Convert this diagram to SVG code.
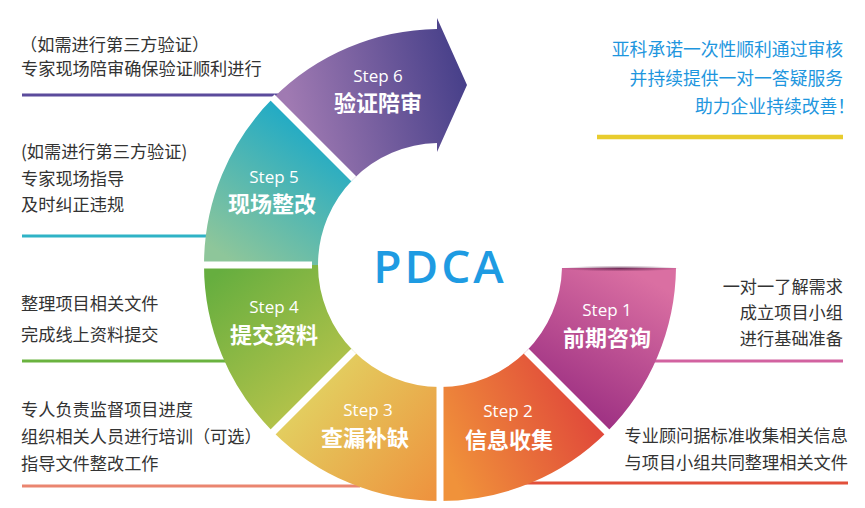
<svg xmlns="http://www.w3.org/2000/svg" width="865" height="508" viewBox="0 0 865 508">
<style>
.note{font-family:"Noto Sans CJK SC","Noto Sans",sans-serif;font-size:17.2px;fill:#333333}
.noteR{font-family:"Noto Sans CJK SC","Noto Sans",sans-serif;font-size:17.2px;fill:#333333;text-anchor:end}
.blue{font-family:"Noto Sans CJK SC","Noto Sans",sans-serif;font-size:17.8px;fill:#1E96DE}
.step{font-family:"Open Sans","Noto Sans",sans-serif;font-size:17px;fill:#ffffff;text-anchor:middle}
.title{font-family:"Noto Sans CJK SC","Noto Sans",sans-serif;font-size:22px;font-weight:bold;fill:#ffffff;text-anchor:middle}
.sep{stroke:#ffffff;stroke-width:7;fill:none}
</style>
<defs>
<linearGradient id="g1" gradientUnits="userSpaceOnUse" x1="640" y1="275" x2="560" y2="420"><stop offset="0" stop-color="#DA6FA2"/><stop offset="1" stop-color="#982B80"/></linearGradient>
<linearGradient id="g2" gradientUnits="userSpaceOnUse" x1="450" y1="470" x2="600" y2="400"><stop offset="0" stop-color="#F0923A"/><stop offset="1" stop-color="#DF433A"/></linearGradient>
<linearGradient id="g3" gradientUnits="userSpaceOnUse" x1="300" y1="370" x2="440" y2="490"><stop offset="0" stop-color="#E1D664"/><stop offset="1" stop-color="#EE933E"/></linearGradient>
<linearGradient id="g4" gradientUnits="userSpaceOnUse" x1="215" y1="275" x2="330" y2="420"><stop offset="0" stop-color="#66AE3F"/><stop offset="1" stop-color="#C0C64C"/></linearGradient>
<linearGradient id="g5" gradientUnits="userSpaceOnUse" x1="320" y1="130" x2="230" y2="260"><stop offset="0" stop-color="#1FAAC6"/><stop offset="1" stop-color="#8EC69A"/></linearGradient>
<linearGradient id="g6" gradientUnits="userSpaceOnUse" x1="290" y1="110" x2="465" y2="70"><stop offset="0" stop-color="#A07AB2"/><stop offset="1" stop-color="#463F89"/></linearGradient>
<radialGradient id="sh1" cx="0.5" cy="0.5" r="0.5"><stop offset="0" stop-color="#5a1d47" stop-opacity="0.8"/><stop offset="1" stop-color="#5a1d47" stop-opacity="0"/></radialGradient>
</defs>

<g id="connectors" stroke-width="3" fill="none">
<line x1="22" y1="95" x2="278" y2="95" stroke="#5B4B9C"/>
<line x1="22" y1="236" x2="210" y2="236" stroke="#2FB3C6"/>
<line x1="22" y1="361" x2="228" y2="361" stroke="#6AB33F"/>
<line x1="22" y1="486" x2="360" y2="486" stroke="#EA8570"/>
<line x1="515" y1="483" x2="848" y2="483" stroke="#E2503B"/>
<line x1="650" y1="361" x2="843" y2="361" stroke="#D262A0"/>
<line x1="597" y1="137" x2="843" y2="137" stroke="#E8CC2E" stroke-width="4.5"/>
</g>

<g id="step1">
<path d="M676,268 A236,236 0 0 1 606.88,431.88 L526.27,351.27 A122,122 0 0 0 562,268 Z" fill="url(#g1)"/>
<ellipse cx="620" cy="268.5" rx="60" ry="3" fill="url(#sh1)"/>
<text class="step" x="607" y="316">Step 1</text>
<text class="title" x="607" y="346">前期咨询</text>
</g>
<g id="step2">
<path d="M606.88,431.88 A236,236 0 0 1 440,501 L440,387 A122,122 0 0 0 526.27,351.27 Z" fill="url(#g2)"/>
<text class="step" x="508" y="417">Step 2</text>
<text class="title" x="509" y="448">信息收集</text>
</g>
<g id="step3">
<path d="M440,501 A236,236 0 0 1 273.12,431.88 L353.73,351.27 A122,122 0 0 0 440,387 Z" fill="url(#g3)"/>
<text class="step" x="368" y="416">Step 3</text>
<text class="title" x="365" y="446">查漏补缺</text>
</g>
<g id="step4">
<path d="M273.12,431.88 A236,236 0 0 1 204,265 L318,265 A122,122 0 0 0 353.73,351.27 Z" fill="url(#g4)"/>
<text class="step" x="274" y="313">Step 4</text>
<text class="title" x="274" y="343">提交资料</text>
</g>
<g id="step5">
<path d="M204,265 A236,236 0 0 1 273.12,98.12 L353.73,178.73 A122,122 0 0 0 318,265 Z" fill="url(#g5)"/>
<text class="step" x="274" y="183">Step 5</text>
<text class="title" x="272" y="212">现场整改</text>
</g>
<g id="step6">
<path d="M273.12,98.12 A236,236 0 0 1 437,29 L437,18 L467,85 L437,152 L437,143 A122,122 0 0 0 353.73,178.73 Z" fill="url(#g6)"/>
<text class="step" x="378" y="82">Step 6</text>
<text class="title" x="378" y="111">验证陪审</text>
</g>

<g id="separators" class="sep">
<line x1="526.27" y1="351.27" x2="608" y2="433"/>
<line x1="440" y1="380" x2="440" y2="503"/>
<line x1="353.73" y1="351.27" x2="272" y2="433"/>
<line x1="312" y1="265" x2="202" y2="265"/>
<line x1="353.73" y1="178.73" x2="272" y2="97"/>
</g>

<g id="pdca">
<text x="440" y="283" text-anchor="middle" font-family="'Open Sans','Noto Sans',sans-serif" font-size="46" font-weight="600" letter-spacing="3" fill="#1E9BE2">PDCA</text>
</g>

<g id="note6">
<text class="note" x="20" y="51">（如需进行第三方验证）</text>
<text class="note" x="21" y="75">专家现场陪审确保验证顺利进行</text>
</g>
<g id="note5">
<text class="note" x="21" y="158">(如需进行第三方验证)</text>
<text class="note" x="21" y="185">专家现场指导</text>
<text class="note" x="21" y="211">及时纠正违规</text>
</g>
<g id="note4">
<text class="note" x="21" y="310">整理项目相关文件</text>
<text class="note" x="21" y="341">完成线上资料提交</text>
</g>
<g id="note3">
<text class="note" x="21" y="416">专人负责监督项目进度</text>
<text class="note" x="21" y="443">组织相关人员进行培训（可选）</text>
<text class="note" x="21" y="470">指导文件整改工作</text>
</g>
<g id="note1">
<text class="noteR" x="843" y="293">一对一了解需求</text>
<text class="noteR" x="843" y="319">成立项目小组</text>
<text class="noteR" x="843" y="345">进行基础准备</text>
</g>
<g id="note2">
<text class="noteR" x="848" y="442">专业顾问据标准收集相关信息</text>
<text class="noteR" x="848" y="469">与项目小组共同整理相关文件</text>
</g>
<g id="slogan">
<text class="blue" x="843" y="56" text-anchor="end">亚科承诺一次性顺利通过审核</text>
<text class="blue" x="843" y="85" text-anchor="end">并持续提供一对一答疑服务</text>
<text class="blue" x="695" y="113">助力企业持续改善！</text>
</g>
</svg>
